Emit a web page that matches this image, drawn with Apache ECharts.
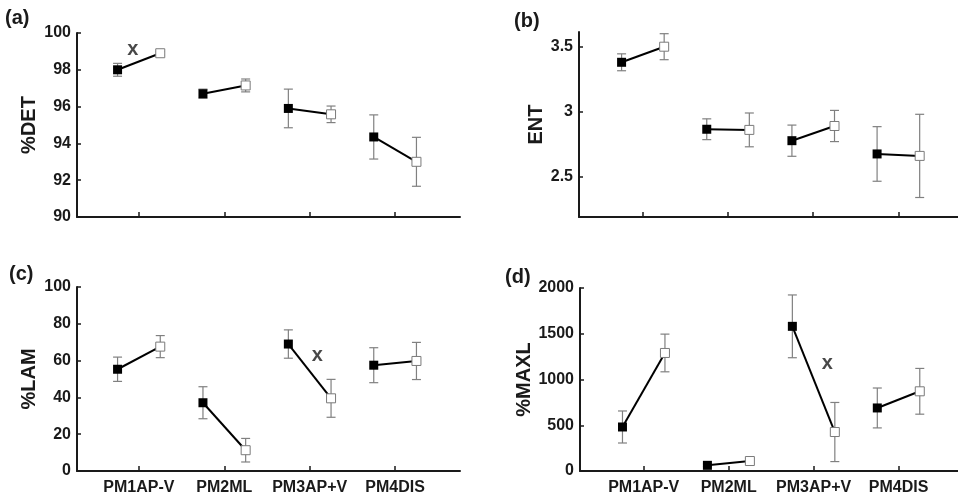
<!DOCTYPE html>
<html>
<head>
<meta charset="utf-8">
<script src="https://cdn.jsdelivr.net/npm/echarts@6/dist/echarts.min.js"></script>
<style>
  html, body { margin: 0; padding: 0; background: #fff; }
  #chart { width: 958px; height: 503px; }
</style>
</head>
<body>
<div id="chart"></div>
<script>
// categories (one tick per group)
const categories = ['PM1AP-V', 'PM2ML', 'PM3AP+V', 'PM4DIS']
const catPos = [1, 2, 3, 4]

// (a) %DET
const detFilled = [98.0, 96.7, 95.9, 94.35]
const detFilledErr = [0.35, 0.25, 1.05, 1.2]
const detOpen = [98.9, 97.15, 95.58, 93.0]
const detOpenErr = [0.1, 0.35, 0.45, 1.33]
const detTicks = [90, 92, 94, 96, 98, 100]

// (b) ENT
const entFilled = [3.38, 2.865, 2.777, 2.675]
const entFilledErr = [0.065, 0.08, 0.12, 0.21]
const entOpen = [3.5, 2.86, 2.89, 2.66]
const entOpenErr = [0.1, 0.13, 0.12, 0.32]
const entTicks = [2.5, 3, 3.5]

// (c) %LAM
const lamFilled = [55.3, 37.1, 69, 57.5]
const lamFilledErr = [6.6, 8.7, 7.7, 9.5]
const lamOpen = [67.6, 11.3, 39.5, 59.8]
const lamOpenErr = [6, 6.4, 10.3, 10.1]
const lamTicks = [0, 20, 40, 60, 80, 100]

// (d) %MAXL
const maxlFilled = [481, 62, 1581, 689]
const maxlFilledErr = [175, 15, 343, 218]
const maxlOpen = [1290, 109, 426, 871]
const maxlOpenErr = [206, 30, 323, 250]
const maxlTicks = [0, 500, 1000, 1500, 2000]

// "x" markers (data coordinates)
const markA = [0.93, 99.1]
const markC = [3.09, 62.6]
const markD = [3.16, 1174]

const FONT = '"Liberation Sans", Arial, sans-serif'
const INK = '#1a1a1a'
const ERR = '#808080'

const panels = [
  { grid: { left: 77, top: 33, width: 383, height: 184 }, xMin: 0.275, xMax: 4.76,
    yMin: 90, yMax: 100, ticks: detTicks, name: '%DET', nameGap: 38, showX: false,
    filled: detFilled, filledErr: detFilledErr, open: detOpen, openErr: detOpenErr, mark: markA },
  { grid: { left: 579, top: 32, width: 379, height: 185 }, xMin: 0.25, xMax: 4.7,
    yMin: 2.19, yMax: 3.613, ticks: entTicks, name: 'ENT', nameGap: 32, showX: false,
    filled: entFilled, filledErr: entFilledErr, open: entOpen, openErr: entOpenErr, mark: null },
  { grid: { left: 77, top: 287, width: 383, height: 184 }, xMin: 0.275, xMax: 4.76,
    yMin: 0, yMax: 100, ticks: lamTicks, name: '%LAM', nameGap: 38, showX: true,
    filled: lamFilled, filledErr: lamFilledErr, open: lamOpen, openErr: lamOpenErr, mark: markC },
  { grid: { left: 580, top: 288, width: 378, height: 183 }, xMin: 0.25, xMax: 4.7,
    yMin: 0, yMax: 2000, ticks: maxlTicks, name: '%MAXL', nameGap: 46, showX: true,
    filled: maxlFilled, filledErr: maxlFilledErr, open: maxlOpen, openErr: maxlOpenErr, mark: markD }
]

const letters = [
  { text: '(a)', x: 5, y: 20 },
  { text: '(b)', x: 514, y: 23 },
  { text: '(c)', x: 9, y: 276 },
  { text: '(d)', x: 505, y: 279 }
]

// 误差线：竖线 + 上下端帽
function errorBarItem (params, api) {
  const x = api.value(0)
  const y = api.value(1)
  const e = api.value(2)
  const top = api.coord([x, y + e])
  const bot = api.coord([x, y - e])
  const cap = 4.5
  const style = { stroke: ERR, lineWidth: 1.2 }
  return {
    type: 'group',
    children: [
      { type: 'line', shape: { x1: top[0], y1: top[1], x2: bot[0], y2: bot[1] }, style },
      { type: 'line', shape: { x1: top[0] - cap, y1: top[1], x2: top[0] + cap, y2: top[1] }, style },
      { type: 'line', shape: { x1: bot[0] - cap, y1: bot[1], x2: bot[0] + cap, y2: bot[1] }, style }
    ]
  }
}

// 连接线：实心点 -> 空心点
function connectorItem (params, api) {
  const c = api.value(0)
  const p1 = api.coord([c - 0.25, api.value(1)])
  const p2 = api.coord([c + 0.25, api.value(2)])
  return {
    type: 'line',
    shape: { x1: p1[0], y1: p1[1], x2: p2[0], y2: p2[1] },
    style: { stroke: '#000', lineWidth: 2 }
  }
}

const grid = []
const xAxis = []
const yAxis = []
const series = []

panels.forEach((p, k) => {
  grid.push(p.grid)
  xAxis.push({
    type: 'value', gridIndex: k, min: p.xMin, max: p.xMax,
    axisLine: { lineStyle: { color: INK, width: 2 } },
    axisTick: { show: true, inside: true, length: 5, customValues: catPos, lineStyle: { color: INK, width: 1.5 } },
    axisLabel: {
      show: p.showX, customValues: catPos, margin: 9,
      formatter: (v) => categories[Math.round(v) - 1] || '',
      color: INK, fontFamily: FONT, fontWeight: 'bold', fontSize: 16
    },
    splitLine: { show: false }
  })
  yAxis.push({
    type: 'value', gridIndex: k, min: p.yMin, max: p.yMax,
    name: p.name, nameLocation: 'middle', nameGap: p.nameGap,
    nameTextStyle: { color: INK, fontFamily: FONT, fontWeight: 'bold', fontSize: 20 },
    axisLine: { show: true, lineStyle: { color: INK, width: 2 } },
    axisTick: { show: true, inside: true, length: 4, customValues: p.ticks, lineStyle: { color: INK, width: 1.5 } },
    axisLabel: {
      customValues: p.ticks, margin: 6,
      formatter: (v) => String(v),
      color: INK, fontFamily: FONT, fontWeight: 'bold', fontSize: 16
    },
    splitLine: { show: false }
  })

  const filledPts = catPos.map((c, i) => [c - 0.25, p.filled[i]])
  const openPts = catPos.map((c, i) => [c + 0.25, p.open[i]])

  series.push({
    type: 'custom', xAxisIndex: k, yAxisIndex: k, renderItem: errorBarItem, silent: true,
    data: catPos.map((c, i) => [c - 0.25, p.filled[i], p.filledErr[i]])
  })
  series.push({
    type: 'custom', xAxisIndex: k, yAxisIndex: k, renderItem: errorBarItem, silent: true,
    data: catPos.map((c, i) => [c + 0.25, p.open[i], p.openErr[i]])
  })
  series.push({
    type: 'custom', xAxisIndex: k, yAxisIndex: k, renderItem: connectorItem, silent: true,
    data: catPos.map((c, i) => [c, p.filled[i], p.open[i]])
  })
  series.push({
    type: 'scatter', xAxisIndex: k, yAxisIndex: k, symbol: 'rect', symbolSize: 9,
    itemStyle: { color: '#fff', borderColor: '#7a7a7a', borderWidth: 1, opacity: 1 },
    data: openPts
  })
  series.push({
    type: 'scatter', xAxisIndex: k, yAxisIndex: k, symbol: 'rect', symbolSize: 9,
    itemStyle: { color: '#000', opacity: 1 },
    data: filledPts
  })
  if (p.mark) {
    series.push({
      type: 'scatter', xAxisIndex: k, yAxisIndex: k, symbolSize: 0, silent: true,
      label: { show: true, position: 'inside', formatter: 'x', color: INK, fontFamily: FONT, fontWeight: 'bold', fontSize: 20 },
      data: [p.mark]
    })
  }
})

const chart = echarts.init(document.getElementById('chart'))
chart.setOption({
  animation: false,
  backgroundColor: '#fff',
  grid,
  xAxis,
  yAxis,
  series,
  graphic: letters.map((l) => ({
    type: 'text', left: l.x, top: l.y - 12,
    style: { text: l.text, fill: INK, font: 'bold 20px ' + FONT }
  }))
})
</script>
</body>
</html>
